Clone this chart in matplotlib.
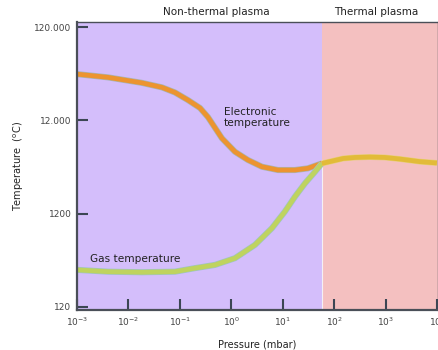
"""Electron vs gas temperature across non-thermal / thermal plasma regimes."""
import matplotlib
matplotlib.use("Agg")
import matplotlib.pyplot as plt
import matplotlib.patheffects as pe

# pressure in mbar, temperature in degC
E_PRESS = [0.001, 0.004, 0.0182, 0.0447, 0.080, 0.143, 0.245, 0.35, 0.655,
           1.17, 2.09, 3.91, 8.0, 17.1, 30.5, 57]
E_TEMP = [37600, 34700, 30300, 27100, 23900, 19800, 16300, 13000, 7700,
          5530, 4510, 3820, 3520, 3520, 3670, 4140]

G_PRESS = [0.001, 0.004, 0.0182, 0.080, 0.195, 0.48, 1.17, 2.86, 6.1, 10.9,
           17.1, 26.9, 42.2, 57]
G_TEMP = [299, 286, 282, 286, 312, 338, 399, 554, 836, 1260, 1820, 2540,
          3380, 4140]

T_PRESS = [57, 148, 251, 490, 955, 1860, 4570, 9800]
T_TEMP = [4140, 4680, 4800, 4850, 4800, 4620, 4330, 4190]

BOUNDARY = 57
YTICKS = [120, 1200, 12000, 120000]
YLABELS = ["120", "1200", "12.000", "120.000"]
XTICKS = [1e-3, 1e-2, 1e-1, 1e0, 1e1, 1e2, 1e3, 1e4]

fig = plt.figure(figsize=(4.38, 3.5), dpi=100)
ax = fig.add_axes([0.1758, 0.1143, 0.8242, 0.8227])
ax.set_xscale("log")
ax.set_yscale("log")
ax.set_xlim(1e-3, 1.03e4)
ax.set_ylim(111, 136000)

ax.axvspan(1e-3, BOUNDARY, color="#d4befb", lw=0)
ax.axvspan(BOUNDARY, 1.03e4, color="#f4c0c0", lw=0)
ax.axvline(BOUNDARY, ymax=0.52, color="#f4f0f4", lw=0.8)

line_kw = dict(lw=3.4, solid_capstyle="butt", solid_joinstyle="round")
ax.plot(E_PRESS, E_TEMP, color="#ec9430", **line_kw,
        path_effects=[pe.Stroke(linewidth=4.4, foreground="#a8b4b4"), pe.Normal()])
ax.plot(G_PRESS, G_TEMP, color="#bfd35f", **line_kw,
        path_effects=[pe.Stroke(linewidth=4.4, foreground="#9fc4c4"), pe.Normal()])
ax.plot(T_PRESS, T_TEMP, color="#e2bb38", **line_kw,
        path_effects=[pe.Stroke(linewidth=4.2, foreground="#e8cf7a"), pe.Normal()])

ax.text(0.71, 13000, "Electronic\ntemperature", fontsize=7.6, color="#222222",
        ha="left", va="center", linespacing=1.15)
ax.text(0.00175, 392, "Gas temperature", fontsize=7.6, color="#222222",
        ha="left", va="center")

ax.set_yticks(YTICKS)
ax.set_yticklabels(YLABELS)
ax.set_xticks(XTICKS)
ax.minorticks_off()
ax.tick_params(direction="in", length=8, width=1.5, color="#3c4654",
               labelsize=6.5, labelcolor="#444444", pad=4)
for s in ax.spines.values():
    s.set_color("#4a4f58")
    s.set_linewidth(1.0)
ax.spines["left"].set_linewidth(1.6)
ax.spines["bottom"].set_linewidth(1.6)

ax.set_xlabel("Pressure (mbar)", fontsize=7, color="#222222", labelpad=8)
ax.set_ylabel("Temperature  ($^{\\mathregular{o}}$C)", fontsize=7,
              color="#222222", labelpad=6)

fig.text(0.495, 0.965, "Non-thermal plasma", fontsize=7.5, color="#222222",
         ha="center", va="center")
fig.text(0.858, 0.965, "Thermal plasma", fontsize=7.5, color="#222222",
         ha="center", va="center")

fig.savefig("out.png", dpi=100)
